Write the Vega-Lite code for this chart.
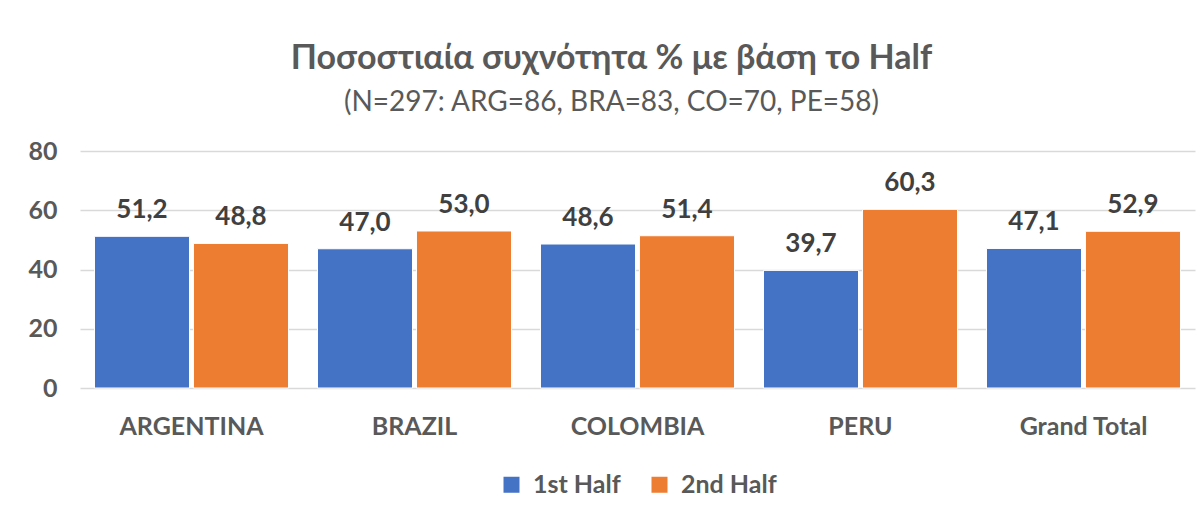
{
  "$schema": "https://vega.github.io/schema/vega-lite/v6.json",
  "width": 1202,
  "height": 517,
  "autosize": {"type": "fit", "contains": "padding"},
  "padding": {"left": 27, "right": 7, "top": 42, "bottom": 19},
  "background": "white",
  "config": {
    "view": {"stroke": null},
    "locale": {"number": {"decimal": ",", "thousands": ".", "grouping": [3], "currency": ["", " €"]}},
    "font": "Lato",
    "legend": {"layout": {"bottom": {"anchor": "middle"}}}
  },
  "title": {
    "text": "Ποσοστιαία συχνότητα % με βάση το Half",
    "subtitle": "(N=297: ARG=86, BRA=83, CO=70, PE=58)",
    "font": "Lato",
    "fontSize": 34,
    "fontWeight": "bold",
    "color": "#595959",
    "subtitleFont": "Lato",
    "subtitleFontSize": 28,
    "subtitleColor": "#595959",
    "subtitlePadding": 13,
    "offset": 22,
    "anchor": "middle",
    "frame": "bounds"
  },
  "data": {
    "values": [
      {"country": "ARGENTINA", "half": "1st Half", "pct": 51.2},
      {"country": "ARGENTINA", "half": "2nd Half", "pct": 48.8},
      {"country": "BRAZIL", "half": "1st Half", "pct": 47.0},
      {"country": "BRAZIL", "half": "2nd Half", "pct": 53.0},
      {"country": "COLOMBIA", "half": "1st Half", "pct": 48.6},
      {"country": "COLOMBIA", "half": "2nd Half", "pct": 51.4},
      {"country": "PERU", "half": "1st Half", "pct": 39.7},
      {"country": "PERU", "half": "2nd Half", "pct": 60.3},
      {"country": "Grand Total", "half": "1st Half", "pct": 47.1},
      {"country": "Grand Total", "half": "2nd Half", "pct": 52.9}
    ]
  },
  "encoding": {
    "x": {
      "field": "country",
      "type": "nominal",
      "sort": ["ARGENTINA", "BRAZIL", "COLOMBIA", "PERU", "Grand Total"],
      "scale": {"paddingInner": 0.13, "paddingOuter": 0.065},
      "axis": {
        "title": null,
        "labelAngle": 0,
        "labelFont": "Lato",
        "labelFontSize": 25,
        "labelFontWeight": "bold",
        "labelColor": "#595959",
        "labelPadding": 26,
        "ticks": false,
        "domain": false
      }
    },
    "xOffset": {"field": "half", "type": "nominal", "scale": {"paddingInner": 0.04}},
    "y": {
      "field": "pct",
      "type": "quantitative",
      "scale": {"domain": [0, 80]},
      "axis": {
        "title": null,
        "values": [0, 20, 40, 60, 80],
        "labelFont": "Lato",
        "labelFontSize": 25,
        "labelFontWeight": "bold",
        "labelColor": "#595959",
        "labelPadding": 23,
        "ticks": false,
        "domain": false,
        "gridColor": "#d9d9d9",
        "gridWidth": 1.5
      }
    }
  },
  "layer": [
    {
      "mark": {"type": "bar", "stroke": "white", "strokeWidth": 1},
      "encoding": {
        "color": {
          "field": "half",
          "type": "nominal",
          "scale": {"domain": ["1st Half", "2nd Half"], "range": ["#4472C4", "#ED7D31"]},
          "legend": {
            "title": null,
            "orient": "bottom",
            "direction": "horizontal",
            "symbolType": "square",
            "symbolSize": 256,
            "symbolStrokeWidth": 0,
            "labelFont": "Lato",
            "labelFontSize": 25,
            "labelFontWeight": "bold",
            "labelColor": "#595959",
            "columnPadding": 26,
            "labelOffset": 9,
            "offset": 33
          }
        }
      }
    },
    {
      "mark": {"type": "text", "baseline": "bottom", "dy": -13, "font": "Lato", "fontSize": 26, "fontWeight": "bold", "color": "#404040"},
      "encoding": {"text": {"field": "pct", "type": "quantitative", "format": ".1f"}}
    }
  ]
}
